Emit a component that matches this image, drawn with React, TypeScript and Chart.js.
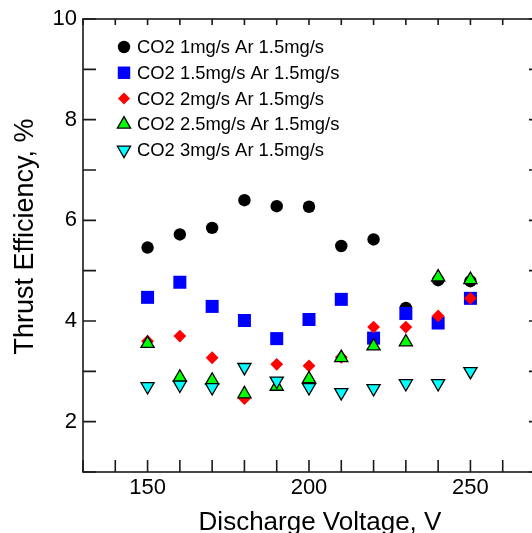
import React, { useEffect, useRef } from 'react';
import { Chart, registerables } from 'chart.js';
import { drawPoint } from 'chart.js/helpers';

Chart.register(...registerables);

// Discharge voltage (V)
const voltage = [150, 160, 170, 180, 190, 200, 210, 220, 230, 240, 250];

// Thrust efficiency (%) for each CO2 / Ar flow combination
const co2_1 = [5.46, 5.72, 5.85, 6.40, 6.28, 6.27, 5.49, 5.62, 4.26, 4.81, 4.79];
const co2_15 = [4.47, 4.77, 4.29, 4.01, 3.65, 4.03, 4.43, 3.66, 4.15, 3.96, 4.45];
const co2_2 = [3.60, 3.70, 3.27, 2.46, 3.14, 3.11, 3.28, 3.88, 3.88, 4.10, 4.45];
const co2_25 = [3.55, 2.88, 2.82, 2.55, 2.70, 2.85, 3.27, 3.50, 3.58, 4.87, 4.82];
const co2_3 = [2.70, 2.73, 2.68, 3.08, 2.81, 2.68, 2.58, 2.66, 2.76, 2.76, 3.00];

const seriesLabels = [
  'CO2 1mg/s Ar 1.5mg/s',
  'CO2 1.5mg/s Ar 1.5mg/s',
  'CO2 2mg/s Ar 1.5mg/s',
  'CO2 2.5mg/s Ar 1.5mg/s',
  'CO2 3mg/s Ar 1.5mg/s',
];

const xTitle = 'Discharge Voltage, V';
const yTitle = 'Thrust Efficiency, %';

const FONT = '"Liberation Sans", Arial, Helvetica, sans-serif';

type MarkerStyle = {
  pointStyle: string;
  radius: number;
  rotation: number;
  fill: string;
  border: string;
  borderWidth: number;
};

const markers: MarkerStyle[] = [
  { pointStyle: 'circle', radius: 6.2, rotation: 0, fill: '#000000', border: '#000000', borderWidth: 0 },
  { pointStyle: 'rect', radius: 9.2, rotation: 0, fill: '#0000ff', border: '#0000ff', borderWidth: 0 },
  { pointStyle: 'rectRot', radius: 6.4, rotation: 0, fill: '#ff0000', border: '#ff0000', borderWidth: 0 },
  { pointStyle: 'triangle', radius: 7.6, rotation: 0, fill: '#00ff00', border: '#000000', borderWidth: 1.3 },
  { pointStyle: 'triangle', radius: 7.6, rotation: 180, fill: '#00ffff', border: '#000000', borderWidth: 1.3 },
];

const seriesValues = [co2_1, co2_15, co2_2, co2_25, co2_3];

// Box frame, inward tick marks, legend and axis titles
const decorations = {
  id: 'decorations',
  beforeDatasetsDraw(chart: any) {
    const { ctx, chartArea: a, scales } = chart;
    const xs = scales.x;
    const ys = scales.y;
    ctx.save();
    ctx.strokeStyle = '#1a1a1a';
    ctx.lineWidth = 1.6;
    ctx.strokeRect(a.left, a.top, a.right - a.left, a.bottom - a.top);
    ctx.beginPath();
    xs.ticks.forEach((t: any) => {
      const px = xs.getPixelForValue(t.value);
      ctx.moveTo(px, a.bottom);
      ctx.lineTo(px, a.bottom - 12);
      ctx.moveTo(px, a.top);
      ctx.lineTo(px, a.top + 6);
    });
    ys.ticks.forEach((t: any) => {
      const py = ys.getPixelForValue(t.value);
      ctx.moveTo(a.left, py);
      ctx.lineTo(a.left + 13, py);
      ctx.moveTo(a.right, py);
      ctx.lineTo(a.right - 6, py);
    });
    ctx.stroke();
    ctx.restore();
  },
  afterDraw(chart: any) {
    const { ctx, chartArea: a } = chart;
    ctx.save();
    // legend
    ctx.font = `18.4px ${FONT}`;
    ctx.textAlign = 'left';
    ctx.textBaseline = 'middle';
    seriesLabels.forEach((label, i) => {
      const m = markers[i];
      const rowY = a.top + 28 + i * 25.75;
      ctx.fillStyle = m.fill;
      ctx.strokeStyle = m.border;
      ctx.lineWidth = m.borderWidth;
      drawPoint(
        ctx,
        {
          pointStyle: m.pointStyle as any,
          radius: m.pointStyle === 'rect' ? 8.8 : m.pointStyle === 'rectRot' ? 6 : m.radius,
          rotation: m.rotation,
          borderWidth: m.borderWidth,
        } as any,
        a.left + 41,
        rowY
      );
      ctx.fillStyle = '#000000';
      ctx.fillText(label, a.left + 54, rowY + 1);
    });
    // axis titles
    ctx.fillStyle = '#000000';
    ctx.font = `26px ${FONT}`;
    ctx.textAlign = 'center';
    ctx.textBaseline = 'alphabetic';
    ctx.fillText(xTitle, a.left + 237, 530);
    ctx.font = `27px ${FONT}`;
    ctx.translate(33, (a.top + a.bottom) / 2 - 9);
    ctx.rotate(-Math.PI / 2);
    ctx.fillText(yTitle, 0, 0);
    ctx.restore();
  },
};

export default function App() {
  const canvasRef = useRef<HTMLCanvasElement>(null);

  useEffect(() => {
    const canvas = canvasRef.current;
    if (!canvas) return;
    // later series drawn on top of earlier ones
    const datasets = seriesValues.map((vals, i) => ({
      label: seriesLabels[i],
      data: voltage.map((v, j) => ({ x: v, y: vals[j] })),
      showLine: false,
      order: seriesValues.length - i,
      pointStyle: markers[i].pointStyle as any,
      pointRadius: markers[i].radius,
      pointRotation: markers[i].rotation,
      pointBackgroundColor: markers[i].fill,
      pointBorderColor: markers[i].border,
      pointBorderWidth: markers[i].borderWidth,
      backgroundColor: markers[i].fill,
      borderColor: markers[i].border,
    }));

    const chart = new Chart(canvas, {
      type: 'scatter',
      data: { datasets },
      options: {
        responsive: false,
        maintainAspectRatio: false,
        animation: false,
        devicePixelRatio: 1,
        layout: { padding: { top: 19, right: 25, left: 0, bottom: 0 } },
        plugins: {
          legend: { display: false },
          tooltip: { enabled: false },
        },
        scales: {
          x: {
            type: 'linear',
            min: 130,
            max: 270,
            grid: { display: false, drawTicks: false },
            border: { display: false },
            ticks: {
              stepSize: 10,
              autoSkip: false,
              maxRotation: 0,
              padding: 3,
              color: '#000000',
              font: { family: FONT, size: 22 },
              callback: (v: any) => (Number(v) % 50 === 0 ? String(v) : ''),
            },
            afterFit: (s: any) => {
              s.height = 61;
              s.paddingLeft = 0;
              s.paddingRight = 0;
            },
          },
          y: {
            type: 'linear',
            min: 1,
            max: 10,
            grid: { display: false, drawTicks: false },
            border: { display: false },
            ticks: {
              stepSize: 1,
              autoSkip: false,
              padding: 6,
              color: '#000000',
              font: { family: FONT, size: 22 },
              callback: (v: any) => (Number(v) % 2 === 0 ? String(v) : ''),
            },
            afterFit: (s: any) => {
              s.width = 83;
              s.paddingTop = 0;
              s.paddingBottom = 0;
            },
          },
        },
      },
      plugins: [decorations],
    });

    return () => chart.destroy();
  }, []);

  return (
    <div
      style={{
        position: 'fixed',
        left: 0,
        top: 0,
        width: 532,
        height: 533,
        overflow: 'hidden',
        background: '#ffffff',
      }}
    >
      <canvas ref={canvasRef} width={560} height={533} style={{ display: 'block', width: 560, height: 533 }} />
    </div>
  );
}
